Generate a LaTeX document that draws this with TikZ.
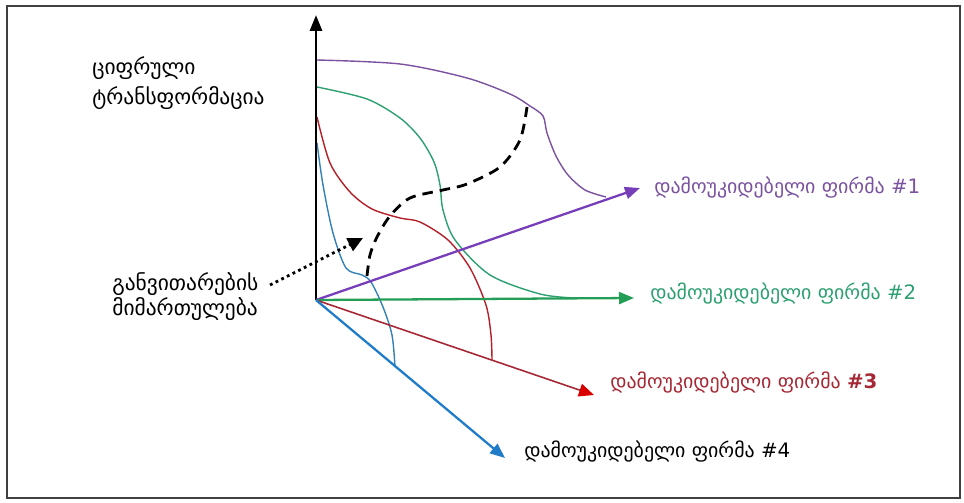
\documentclass[tikz,border=0pt]{standalone}
\usepackage{fontspec}
\newfontfamily\geofont{DejaVu Sans}
\usepackage{xcolor}
\usetikzlibrary{arrows.meta, positioning}

\definecolor{firmpurple}{RGB}{118,62,185}
\definecolor{curvepurple}{RGB}{122,82,160}
\definecolor{firmgreen}{RGB}{36,158,86}
\definecolor{curvegreen}{RGB}{44,160,112}
\definecolor{firmred}{RGB}{165,40,52}
\definecolor{curvered}{RGB}{180,32,42}
\definecolor{firmblue}{RGB}{32,124,200}
\definecolor{curveblue}{RGB}{52,130,180}

\begin{document}
\begin{tikzpicture}[
  x=0.02cm, y=-0.02cm,
  axis/.style={-{Triangle[length=3.2mm,width=2.4mm]}, line width=1.7pt},
  firm/.style={-{Triangle[length=3mm,width=2.4mm]}, line width=1.3pt},
  trend/.style={line width=0.8pt},
  lbl/.style={font=\geofont\fontsize{11.3}{14}\selectfont, anchor=west, inner sep=0pt, align=left}
]
\useasboundingbox (0,0) rectangle (964,503);
\draw[black!75, line width=1.3pt] (7,6) rectangle (960,498);

% --- axis origin and arrow tips ---
\coordinate (O) at (316,300);
\coordinate (top) at (316,15);
\coordinate (f1) at (640,188);
\coordinate (f2) at (634,298);
\coordinate (f3) at (594,395);
\coordinate (f4) at (505,458);

% --- firm trajectories ---
\draw[trend, curvepurple] plot[smooth] coordinates {(317,60) (400,64) (467,78) (510,94) (530,106) (543,116) (547,133) (556,156) (568,175) (585,190) (606,197)};
\draw[trend, curvegreen] plot[smooth] coordinates {(317,87) (367,99) (400,118) (420,138) (434,162) (440,185) (443,210) (455,240) (490,275) (540,294) (575,298)};
\draw[trend, curvered] plot[smooth] coordinates {(317,117) (330,163) (350,192) (372,209) (400,218) (420,222) (448,240) (470,268) (486,305) (491,335) (492,360)};
\draw[trend, curveblue] plot[smooth] coordinates {(317,143) (323,185) (333,233) (346,268) (362,275) (371,282) (383,307) (392,335) (395,367)};

% --- development direction ---
\draw[line width=1.6pt, dash pattern=on 6pt off 4pt] plot[smooth] coordinates {(367,276) (370,255) (377,237) (390,216) (410,198) (443,190) (467,184) (500,167) (520,140) (527,107)};

% --- axes ---
\draw[axis] (O) -- (top);
\draw[firm, firmpurple] (O) -- (f1);
\draw[firm, firmgreen] (O) -- (f2);
\draw[firm, line width=0.9pt, firmred, -{Triangle[length=3mm,width=2.6mm,color=red!85!black]}] (O) -- (f3);
\draw[firm, firmblue] (O) -- (f4);

% --- labels ---
\node[lbl, font=\geofont\fontsize{12.2}{17}\selectfont] (ylab) at (92,83) {ციფრული\\ტრანსფორმაცია};
\node[lbl, font=\geofont\fontsize{12.2}{14.2}\selectfont] (dev) at (112,297) {განვითარების\\მიმართულება};
\node[lbl, text=curvepurple] (l1) at (654,188) {დამოუკიდებელი ფირმა \#1};
\node[lbl, text=curvegreen] (l2) at (650,294) {დამოუკიდებელი ფირმა \#2};
\node[lbl, text=firmred] (l3) at (610,383) {დამოუკიდებელი ფირმა \textbf{\#3}};
\node[lbl] (l4) at (524,452) {დამოუკიდებელი ფირმა \#4};

\coordinate (devstart) at (270,285);
\coordinate (devend) at (363,238);
\draw[dotted, line width=1.6pt, -{Triangle[length=3mm,width=2.8mm]}] (devstart) -- (devend);

\end{tikzpicture}
\end{document}
